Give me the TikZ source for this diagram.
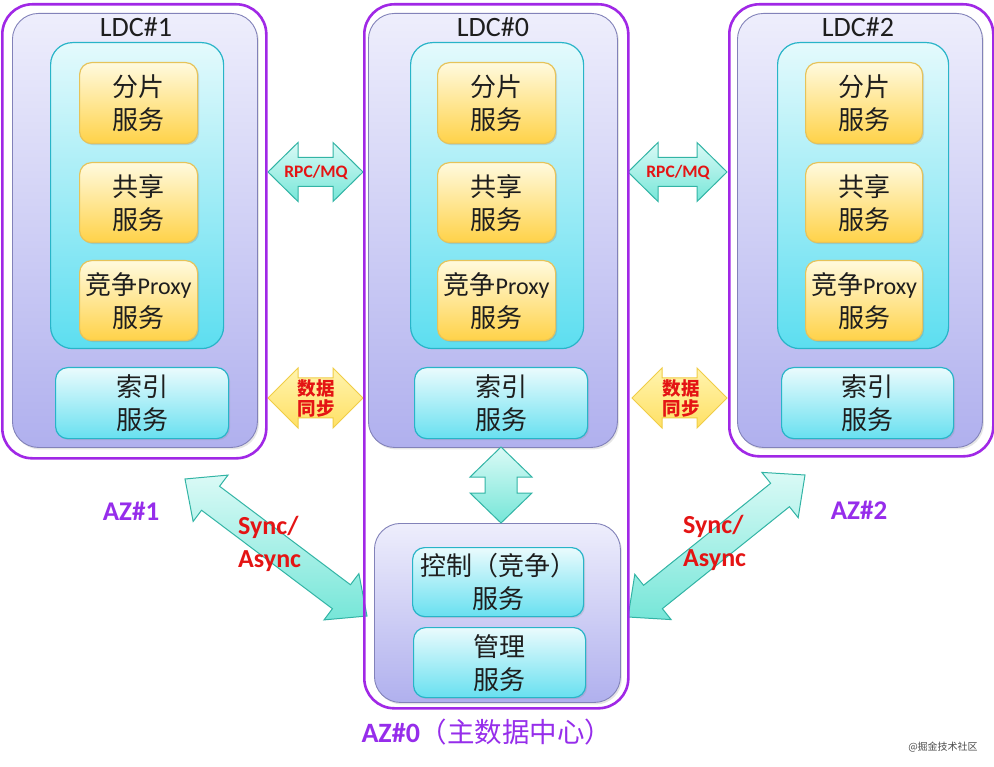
\documentclass[tikz,border=0pt]{standalone}
\usepackage{fontspec}
\setmainfont{Carlito}
\newfontfamily\cjk{Noto Sans CJK SC}
\usetikzlibrary{calc,shadows}
\definecolor{azpurple}{RGB}{160,40,230}
\definecolor{aztext}{RGB}{150,45,235}
\definecolor{ldctop}{RGB}{238,238,252}
\definecolor{ldcbot}{RGB}{176,176,238}
\definecolor{ldcline}{RGB}{130,130,185}
\definecolor{cyantop}{RGB}{228,250,252}
\definecolor{cyanbot}{RGB}{92,222,240}
\definecolor{cyanline}{RGB}{40,180,200}
\definecolor{yeltop}{RGB}{255,250,222}
\definecolor{yelbot}{RGB}{255,210,72}
\definecolor{yelline}{RGB}{230,195,90}
\definecolor{idxtop}{RGB}{234,251,253}
\definecolor{idxbot}{RGB}{104,224,240}
\definecolor{arrtop}{RGB}{218,250,246}
\definecolor{arrbot}{RGB}{118,230,216}
\definecolor{arrline}{RGB}{50,180,165}
\definecolor{yarrtop}{RGB}{255,244,175}
\definecolor{yarrbot}{RGB}{255,224,100}
\definecolor{yarrline}{RGB}{240,205,70}
\definecolor{redtxt}{RGB}{228,20,20}
\definecolor{txtdark}{RGB}{30,30,30}
\newcommand{\fatarrow}[6]{%
  \path[#6] (#1)
    -- ($(#1)!#5!(#2)!#4!90:(#2)$) -- ($(#1)!#5!(#2)!#3!90:(#2)$)
    -- ($(#2)!#5!(#1)!#3!-90:(#1)$) -- ($(#2)!#5!(#1)!#4!-90:(#1)$)
    -- (#2)
    -- ($(#2)!#5!(#1)!#4!90:(#1)$) -- ($(#2)!#5!(#1)!#3!90:(#1)$)
    -- ($(#1)!#5!(#2)!#3!-90:(#2)$) -- ($(#1)!#5!(#2)!#4!-90:(#2)$)
    -- cycle;}
\begin{document}
\begin{tikzpicture}[x=1pt,y=-1pt,
  box/.style={anchor=north west, inner sep=2pt, align=center,
    font=\cjk\fontsize{26}{33}\selectfont, text=txtdark},
  azbox/.style={box, draw=azpurple, line width=2.6pt, rounded corners=30pt},
  ldcbox/.style={box, draw=ldcline, line width=0.9pt, top color=ldctop,
    bottom color=ldcbot, rounded corners=26pt,
    drop shadow={opacity=.2, shadow xshift=1.5pt, shadow yshift=-2pt}},
  cybox/.style={box, draw=cyanline, line width=1.2pt, top color=cyantop,
    bottom color=cyanbot, rounded corners=22pt},
  ybox/.style={box, draw=yelline, line width=1.2pt, top color=yeltop,
    bottom color=yelbot, rounded corners=12pt,
    drop shadow={opacity=.25, shadow xshift=1.5pt, shadow yshift=-1.5pt}},
  ibox/.style={box, draw=cyanline, line width=1.2pt, top color=idxtop,
    bottom color=idxbot, rounded corners=12pt,
    drop shadow={opacity=.2, shadow xshift=1.5pt, shadow yshift=-1.5pt}},
  ldclabel/.style={font=\fontsize{28}{30}\selectfont, text=txtdark},
  fatcyan/.style={draw=arrline, line width=1pt, top color=arrtop, bottom color=arrbot},
  fatyellow/.style={draw=yarrline, line width=1pt, top color=yarrtop, bottom color=yarrbot},
  redlabel/.style={font=\bfseries\fontsize{17.5}{20}\selectfont, text=redtxt},
  azlabel/.style={font=\bfseries\fontsize{27}{30}\selectfont, text=aztext}
]
\fill[white] (0,0) rectangle (994,767);
\useasboundingbox (0,0) rectangle (994,767);

% ---------- connector end points ----------
\coordinate (rpcLa) at (268,172);  \coordinate (rpcLb) at (363,172);
\coordinate (rpcRa) at (628,172);  \coordinate (rpcRb) at (727,172);
\coordinate (dsLa) at (268,398);   \coordinate (dsLb) at (363,398);
\coordinate (dsRa) at (632,398);   \coordinate (dsRb) at (727,398);
\coordinate (vA) at (501,447);     \coordinate (vB) at (501,523);
\coordinate (dLa) at (185,479);    \coordinate (dLb) at (367,616);
\coordinate (dRa) at (628,617);    \coordinate (dRb) at (805,475);

% ---------- fat arrows ----------
\fatarrow{rpcLa}{rpcLb}{14.5pt}{29.5pt}{30pt}{fatcyan}
\fatarrow{rpcRa}{rpcRb}{14.5pt}{29.5pt}{30pt}{fatcyan}
\fatarrow{dsLa}{dsLb}{20pt}{30pt}{30pt}{fatyellow}
\fatarrow{dsRa}{dsRb}{20pt}{30pt}{30pt}{fatyellow}
\fatarrow{dLa}{dLb}{15pt}{29pt}{32pt}{fatcyan}
\fatarrow{dRa}{dRb}{15pt}{29pt}{32pt}{fatcyan}

% ---------- AZ#1 / LDC#1 ----------
\node[azbox, minimum width=264pt, minimum height=454pt] (az1) at (1,3) {};
\node[ldcbox, minimum width=245pt, minimum height=434pt] (ldc1) at (12,13) {};
\node[ldclabel] (ldc1l) at (136,27) {LDC\#1};
\node[cybox, minimum width=173pt, minimum height=306pt] (cy1) at (50,42) {};
\node[ybox, minimum width=118pt, minimum height=81pt] (y1a) at (79,62) {分片\\服务};
\node[ybox, minimum width=118pt, minimum height=80pt] (y1b) at (79,162) {共享\\服务};
\node[ybox, minimum width=118pt, minimum height=80pt] (y1c) at (79,260) {竞争{\fontspec{Carlito}\fontsize{24}{33}\selectfont Proxy}\\服务};
\node[ibox, minimum width=173pt, minimum height=71pt] (i1) at (55,367) {索引\\服务};

% ---------- AZ#0 / LDC#0 ----------
\node[azbox, minimum width=264pt, minimum height=704pt] (az0) at (363,3) {};
\node[ldcbox, minimum width=249pt, minimum height=434pt] (ldc0) at (368,13) {};
\node[ldclabel] (ldc0l) at (493,27) {LDC\#0};
\node[cybox, minimum width=173pt, minimum height=306pt] (cy0) at (410,42) {};
\node[ybox, minimum width=118pt, minimum height=81pt] (y0a) at (437,62) {分片\\服务};
\node[ybox, minimum width=118pt, minimum height=80pt] (y0b) at (437,162) {共享\\服务};
\node[ybox, minimum width=118pt, minimum height=80pt] (y0c) at (437,260) {竞争{\fontspec{Carlito}\fontsize{24}{33}\selectfont Proxy}\\服务};
\node[ibox, minimum width=173pt, minimum height=71pt] (i0) at (414,367) {索引\\服务};
\node[ldcbox, minimum width=246pt, minimum height=179pt] (ctl) at (374,523) {};
\node[ibox, minimum width=171pt, minimum height=69pt] (ctrl) at (412,547) {控制（竞争）\\服务};
\node[ibox, minimum width=172pt, minimum height=70pt] (mgmt) at (413,627) {管理\\服务};

% ---------- AZ#2 / LDC#2 ----------
\node[azbox, minimum width=264pt, minimum height=452pt] (az2) at (728,3) {};
\node[ldcbox, minimum width=245pt, minimum height=434pt] (ldc2) at (737,13) {};
\node[ldclabel] (ldc2l) at (858,27) {LDC\#2};
\node[cybox, minimum width=171pt, minimum height=306pt] (cy2) at (777,42) {};
\node[ybox, minimum width=117pt, minimum height=81pt] (y2a) at (805,62) {分片\\服务};
\node[ybox, minimum width=117pt, minimum height=80pt] (y2b) at (805,162) {共享\\服务};
\node[ybox, minimum width=117pt, minimum height=80pt] (y2c) at (805,260) {竞争{\fontspec{Carlito}\fontsize{24}{33}\selectfont Proxy}\\服务};
\node[ibox, minimum width=172pt, minimum height=71pt] (i2) at (781,367) {索引\\服务};

% ---------- vertical arrow ----------
\fatarrow{vA}{vB}{16pt}{31pt}{30pt}{fatcyan}

% ---------- labels ----------
\node[redlabel] (rpcLl) at (316,172) {RPC/MQ};
\node[redlabel] (rpcRl) at (678,172) {RPC/MQ};
\node[font=\cjk\bfseries\fontsize{18.5}{20}\selectfont, text=redtxt, align=center] (dsLl) at (316,398) {数据\\同步};
\node[font=\cjk\bfseries\fontsize{18.5}{20}\selectfont, text=redtxt, align=center] (dsRl) at (681,398) {数据\\同步};
\node[anchor=west, align=left, inner sep=0, font=\bfseries\fontsize{26}{33}\selectfont, text=redtxt] (saL) at (238,544) {Sync/\\Async};
\node[anchor=west, align=left, inner sep=0, font=\bfseries\fontsize{26}{33}\selectfont, text=redtxt] (saR) at (683,543) {Sync/\\Async};
\node[azlabel] (az1l) at (131,511) {AZ\#1};
\node[azlabel] (az2l) at (859,510) {AZ\#2};
\node[text=aztext, inner sep=0] (az0l) at (487,732) {{\bfseries\fontsize{28}{30}\selectfont AZ\#0}{\cjk\fontsize{27.5}{30}\selectfont （主数据中心）}};
\node[font=\cjk\fontsize{10}{12}\selectfont, text=black!70] (wm) at (943,747) {@掘金技术社区};
\end{tikzpicture}
\end{document}
